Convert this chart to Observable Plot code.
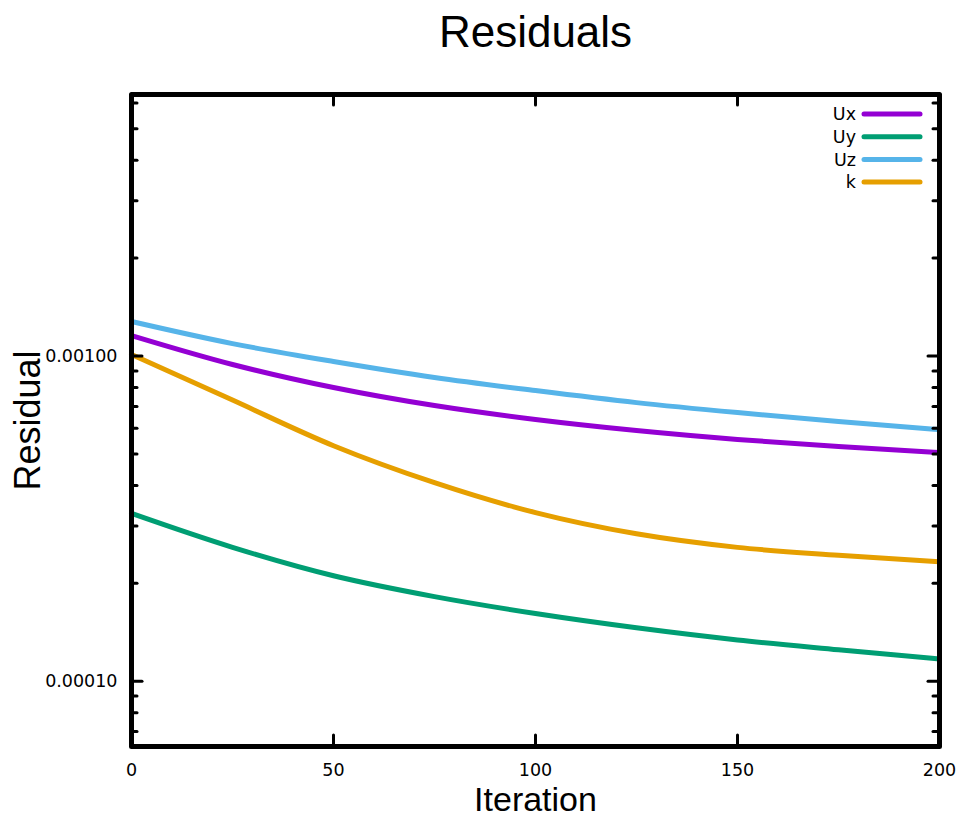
<!DOCTYPE html>
<html>
<head>
<meta charset="utf-8">
<script src="https://cdn.jsdelivr.net/npm/d3@7"></script>
<script src="https://cdn.jsdelivr.net/npm/@observablehq/plot@0.6"></script>
<style>
  html, body { margin: 0; padding: 0; background: white; }
</style>
</head>
<body>
<div id="chart"></div>
<script>
// ---- data ----
const iterations = [0, 25, 50, 75, 100, 125, 150, 175, 200];
const seriesNames = ["Ux", "Uy", "Uz", "k"];
const seriesColors = ["#9400d3", "#009e73", "#56b4e9", "#e69f00"];
const ux = [1.156e-3, 9.42e-4, 8.00e-4, 7.04e-4, 6.38e-4, 5.90e-4, 5.54e-4, 5.27e-4, 5.05e-4];
const uy = [3.28e-4, 2.58e-4, 2.11e-4, 1.82e-4, 1.615e-4, 1.46e-4, 1.34e-4, 1.25e-4, 1.17e-4];
const uz = [1.277e-3, 1.092e-3, 9.62e-4, 8.59e-4, 7.83e-4, 7.19e-4, 6.70e-4, 6.29e-4, 5.94e-4];
const kRes = [1.011e-3, 7.32e-4, 5.30e-4, 4.08e-4, 3.30e-4, 2.84e-4, 2.58e-4, 2.44e-4, 2.33e-4];
const xTicks = [0, 50, 100, 150, 200];
const yMajorTicks = [1e-4, 1e-3];
const yMinorTicks = [7e-5, 8e-5, 9e-5, 2e-4, 3e-4, 4e-4, 5e-4, 6e-4, 7e-4, 8e-4, 9e-4, 2e-3, 3e-3, 4e-3, 5e-3, 6e-3];
const yDomain = [6.3e-5, 6.37e-3];
const titleText = "Residuals";
const xLabel = "Iteration";
const yLabel = "Residual";

// ---- table ----
const valuesBySeries = [ux, uy, uz, kRes];
const rows = [];
seriesNames.forEach((s, i) => {
  iterations.forEach((it, j) => rows.push({series: s, iter: it, value: valuesBySeries[i][j]}));
});

const W = 961, H = 818;
const mL = 131, mR = 22, mT = 94, mB = 72;
const plotW = W - mL - mR, plotH = H - mT - mB;
const majorLen = 11, minorLen = 6;

function legend(index, scales, values, dims) {
  const g = d3.create("svg:g").attr("font-family", "DejaVu Sans").attr("font-size", 17.5);
  const right = dims.width - dims.marginRight;
  const top = dims.marginTop;
  seriesNames.forEach((s, i) => {
    const cy = top + 20 + i * 22.7;
    g.append("text").attr("x", right - 83).attr("y", cy).attr("dy", "0.35em")
      .attr("text-anchor", "end").attr("fill", "black").text(s);
    g.append("line").attr("x1", right - 75).attr("x2", right - 19)
      .attr("y1", cy).attr("y2", cy).attr("stroke", seriesColors[i])
      .attr("stroke-width", 5).attr("stroke-linecap", "round");
  });
  return g.node();
}

const chart = Plot.plot({
  width: W, height: H,
  marginLeft: mL, marginRight: mR, marginTop: mT, marginBottom: mB,
  style: {fontFamily: "DejaVu Sans", fontSize: "17.5px", color: "black", background: "white"},
  x: {domain: [0, 200]},
  y: {type: "log", domain: yDomain},
  color: {domain: seriesNames, range: seriesColors},
  marks: [
    Plot.line(rows, {x: "iter", y: "value", z: "series", stroke: "series", strokeWidth: 5, curve: "monotone-x"}),
    // inward ticks (left / right)
    Plot.ruleY(yMajorTicks, {y: d => d, insetRight: plotW - majorLen, strokeWidth: 3, strokeLinecap: "round"}),
    Plot.ruleY(yMajorTicks, {y: d => d, insetLeft: plotW - majorLen, strokeWidth: 3, strokeLinecap: "round"}),
    Plot.ruleY(yMinorTicks, {y: d => d, insetRight: plotW - minorLen, strokeWidth: 3, strokeLinecap: "round"}),
    Plot.ruleY(yMinorTicks, {y: d => d, insetLeft: plotW - minorLen, strokeWidth: 3, strokeLinecap: "round"}),
    // inward ticks (bottom / top)
    Plot.ruleX(xTicks, {x: d => d, insetTop: plotH - majorLen, strokeWidth: 3, strokeLinecap: "round"}),
    Plot.ruleX(xTicks, {x: d => d, insetBottom: plotH - majorLen, strokeWidth: 3, strokeLinecap: "round"}),
    Plot.frame({strokeWidth: 5, strokeLinejoin: "round"}),
    Plot.axisX({ticks: xTicks, tickSize: 0, tickPadding: 17, label: null}),
    Plot.axisY({ticks: yMajorTicks, tickSize: 0, tickPadding: 14, tickFormat: d3.format(".5f"), label: null}),
    Plot.text([titleText], {frameAnchor: "top", dy: -62, fontSize: 44, fontFamily: "Liberation Sans", lineAnchor: "middle"}),
    Plot.text([xLabel], {frameAnchor: "bottom", dy: 54, fontSize: 34, fontFamily: "Liberation Sans", lineAnchor: "middle", textAnchor: "middle"}),
    Plot.text([yLabel], {frameAnchor: "left", dx: -103, rotate: -90, fontSize: 36, fontFamily: "Liberation Sans", lineAnchor: "middle", textAnchor: "middle"}),
    legend
  ]
});
document.getElementById("chart").appendChild(chart);
</script>
</body>
</html>
